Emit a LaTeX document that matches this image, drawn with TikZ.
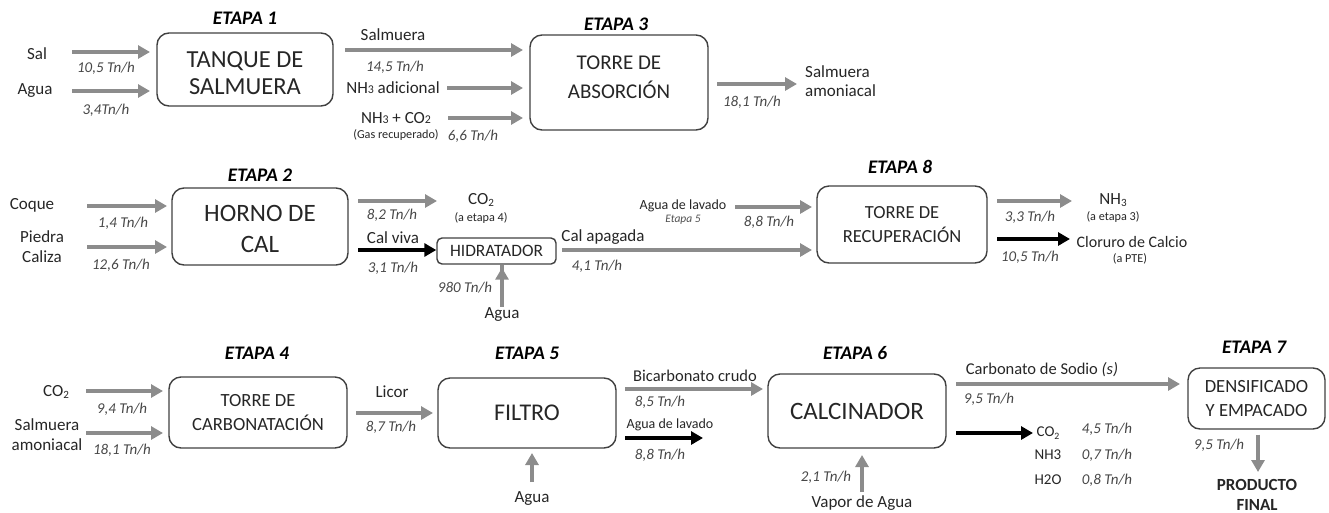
\documentclass[tikz,border=0pt]{standalone}
\usepackage{fontspec}
\usepackage{graphicx}
\setmainfont{Carlito}
\usetikzlibrary{arrows.meta}
\definecolor{ag}{HTML}{8C8C8C}
\definecolor{bx}{HTML}{404040}
\definecolor{tx}{HTML}{262626}
\newcommand\lowsub[1]{\raisebox{-0.35ex}{\scalebox{0.65}{#1}}}
\newcommand\smnum[1]{\scalebox{0.7}{#1}}
\begin{document}
\begin{tikzpicture}[x=1pt,y=-1pt,
  box/.style={draw=bx, line width=1.4pt, rounded corners=12pt, align=center, inner sep=0pt, text=tx, font=\fontsize{24.5}{28}\selectfont},
  boxtext/.style={align=center, inner sep=0pt, text=tx},
  ga/.style={color=ag, line width=4pt, -{Triangle[length=12pt,width=13pt]}},
  ka/.style={color=black, line width=4pt, -{Triangle[length=12pt,width=13pt]}},
  lab/.style={text=tx, font=\fontsize{17}{19}\selectfont, align=center, inner sep=0pt},
  rate/.style={text=tx!85, font=\fontsize{15}{17}\selectfont\itshape, inner sep=0pt},
  sml/.style={text=tx, font=\fontsize{12.2}{14}\selectfont, align=center, inner sep=0pt},
  etapa/.style={font=\fontsize{19.2}{21}\selectfont\bfseries\itshape, inner sep=0pt}
]
\useasboundingbox (0,0) rectangle (1329,512);

% ---------- boxes ----------
\node[box, minimum width=176pt, minimum height=73pt] (tanque) at (245,69.5) {};
\node[boxtext, font=\fontsize{24.5}{27.5}\selectfont] (tanquet) at (245,73) {TANQUE DE\\SALMUERA};
\node[box, minimum width=178pt, minimum height=95pt] (absor) at (619,82.5) {};
\node[boxtext, font=\fontsize{21}{29}\selectfont] (absort) at (619,77) {TORRE DE\\ABSORCIÓN};
\node[box, minimum width=176pt, minimum height=77pt] (horno) at (260,226.5) {};
\node[boxtext, font=\fontsize{25}{31.5}\selectfont] (hornot) at (260,229) {HORNO DE\\CAL};
\node[box, minimum width=119pt, minimum height=26pt, rounded corners=5pt, font=\fontsize{17.4}{19}\selectfont] (hidrat) at (496.5,251) {HIDRATADOR};
\node[box, minimum width=170pt, minimum height=77pt, font=\fontsize{18.5}{24.5}\selectfont] (recup) at (902,224.5) {TORRE DE\\RECUPERACIÓN};
\node[box, minimum width=178pt, minimum height=71pt, font=\fontsize{18.6}{24}\selectfont] (carbon) at (258,412.5) {TORRE DE\\CARBONATACIÓN};
\node[box, minimum width=178pt, minimum height=70pt, font=\fontsize{24}{28}\selectfont] (filtro) at (527,413) {FILTRO};
\node[box, minimum width=178pt, minimum height=74pt, font=\fontsize{25}{28}\selectfont] (calcin) at (857,411) {CALCINADOR};
\node[box, minimum width=137pt, minimum height=61pt, font=\fontsize{18.6}{24}\selectfont] (densif) at (1256.5,398.5) {DENSIFICADO\\Y EMPACADO};

% ---------- etapas ----------
\node[etapa] (e1) at (245,18) {ETAPA 1};
\node[etapa] (e3) at (616,24) {ETAPA 3};
\node[etapa] (e2) at (260,175) {ETAPA 2};
\node[etapa] (e8) at (900,167) {ETAPA 8};
\node[etapa] (e4) at (257,353) {ETAPA 4};
\node[etapa] (e5) at (527,353) {ETAPA 5};
\node[etapa] (e6) at (855,353) {ETAPA 6};
\node[etapa] (e7) at (1254,347) {ETAPA 7};

% ---------- row 1 ----------
\node[lab] (sal) at (37,54) {Sal};
\node[lab] (agua1) at (35,91) {Agua};
\coordinate (sal0) at (72,52);
\coordinate (agua0) at (72,91);
\draw[ga] (sal0) -- (sal0 -| 150,0);
\draw[ga] (agua0) -- (agua0 -| 150,0);
\node[rate] at (106,68) {10,5 Tn/h};
\node[rate] at (106,110) {3,4Tn/h};

\node[lab] (salm) at (393,35) {Salmuera};
\coordinate (salm0) at (345,50);
\draw[ga] (salm0) -- (salm0 -| 523,0);
\node[rate] at (395,67) {14,5 Tn/h};

\node[lab] (nh3a) at (393,88) {NH\smnum{3} adicional};
\coordinate (nh3a0) at (447,88);
\draw[ga] (nh3a0) -- (nh3a0 -| 523,0);

\node[lab] (nhco) at (396,118) {NH\smnum{3} + CO\smnum{2}};
\node[sml] (gasrec) at (396,135) {(Gas recuperado)};
\coordinate (nhco0) at (448,118);
\draw[ga] (nhco0) -- (nhco0 -| 523,0);
\node[rate] at (473,136) {6,6 Tn/h};

\coordinate (abs0) at (717,84);
\draw[ga] (abs0) -- (abs0 -| 797,0);
\node[rate] at (752,102) {18,1 Tn/h};
\node[lab, align=left, anchor=west, font=\fontsize{17}{19}\selectfont] (salam) at (805,81) {Salmuera\\amoniacal};

% ---------- row 2 ----------
\node[lab] (coque) at (32,205) {Coque};
\node[lab, font=\fontsize{17}{20}\selectfont] (piedra) at (42,247) {Piedra\\Caliza};
\coordinate (coq0) at (87,206);
\coordinate (pie0) at (87,247);
\draw[ga] (coq0) -- (coq0 -| 167,0);
\draw[ga] (pie0) -- (pie0 -| 167,0);
\node[rate] at (123,223) {1,4 Tn/h};
\node[rate] at (121,265) {12,6 Tn/h};

\coordinate (co2h0) at (358,201);
\draw[ga] (co2h0) -- (co2h0 -| 437,0);
\node[rate] at (392,215) {8,2 Tn/h};
\node[lab] (co2h) at (481,200) {CO\lowsub{2}};
\node[sml] at (481,218) {(a etapa 4)};

\coordinate (cv0) at (358,250);
\draw[ka] (cv0) -- (hidrat.west |- cv0);
\node[lab] at (393,238) {Cal viva};
\node[rate] at (393,268) {3,1 Tn/h};

\coordinate (ca0) at (562,250);
\draw[ga] (ca0) -- (812,250);
\node[lab] at (603,237) {Cal apagada};
\node[rate] at (597,266) {4,1 Tn/h};

\node[lab] (aguah) at (502,314) {Agua};
\draw[ga] (aguah.north) -- (hidrat.south -| aguah.north) ++(0,3);
\node[rate] at (465,288) {980 Tn/h};

\node[lab, font=\fontsize{14}{16}\selectfont] (agl) at (683,206) {Agua de lavado};
\node[sml, font=\fontsize{11.5}{12}\selectfont\itshape, text=tx!80] at (683,220) {Etapa 5};
\coordinate (agl0) at (735,207);
\draw[ga] (agl0) -- (agl0 -| 812,0);
\node[rate] at (769,222) {8,8 Tn/h};

\coordinate (nh0) at (997,201);
\draw[ga] (nh0) -- (nh0 -| 1072,0);
\node[rate] at (1030,217) {3,3 Tn/h};
\node[lab] (nh3r) at (1113,200) {NH\lowsub{3}};
\node[sml] at (1113,217) {(a etapa 3)};

\coordinate (cc0) at (997,239);
\draw[ka] (cc0) -- (cc0 -| 1070,0);
\node[lab, font=\fontsize{16}{18}\selectfont] (cloruro) at (1132,242) {Cloruro de Calcio};
\node[rate] at (1030,257) {10,5 Tn/h};
\node[sml] at (1130,259) {(a PTE)};

% ---------- row 3 ----------
\node[lab] (co2c) at (56,392) {CO\lowsub{2}};
\node[lab, font=\fontsize{17}{20}\selectfont] (salam2) at (47,435) {Salmuera\\amoniacal};
\coordinate (co2c0) at (86,391);
\coordinate (sa0) at (86,433);
\draw[ga] (co2c0) -- (co2c0 -| 163,0);
\draw[ga] (sa0) -- (sa0 -| 163,0);
\node[rate] at (122,409) {9,4 Tn/h};
\node[rate] at (122,450) {18,1 Tn/h};

\coordinate (lic0) at (356,413);
\draw[ga] (lic0) -- (lic0 -| 433,0);
\node[lab] at (392,392) {Licor};
\node[rate] at (391,427) {8,7 Tn/h};

\node[lab] (aguaf) at (532,498) {Agua};
\draw[ga] (532,482) -- (532,453);

\coordinate (bic0) at (625,389);
\draw[ga] (bic0) -- (bic0 -| 763,0);
\node[lab, font=\fontsize{16.5}{18}\selectfont] at (695,376) {Bicarbonato crudo};
\node[rate] at (660,402) {8,5 Tn/h};

\coordinate (agl20) at (625,438);
\draw[ka] (agl20) -- (agl20 -| 703,0);
\node[lab, font=\fontsize{14}{16}\selectfont] at (670,425) {Agua de lavado};
\node[rate] at (660,455) {8,8 Tn/h};

\node[lab] (vapor) at (862,503) {Vapor de Agua};
\draw[ga] (862,492) -- (862,455);
\node[rate] at (826,477) {2,1 Tn/h};

\coordinate (carb0) at (956,384);
\draw[ga] (carb0) -- (carb0 -| 1180,0);
\node[lab, font=\fontsize{16.5}{18}\selectfont] at (1042,370) {Carbonato de Sodio \textit{(s)}};
\node[rate] at (989,399) {9,5 Tn/h};

\coordinate (gas0) at (956,433);
\draw[ka] (gas0) -- (gas0 -| 1033,0);
\node[lab, font=\fontsize{15}{17}\selectfont] at (1048,433) {CO\lowsub{2}};
\node[lab, font=\fontsize{15}{17}\selectfont] at (1048,455) {NH3};
\node[lab, font=\fontsize{15}{17}\selectfont] at (1048,480) {H2O};
\node[rate] at (1107,429) {4,5 Tn/h};
\node[rate] at (1107,455) {0,7 Tn/h};
\node[rate] at (1107,480) {0,8 Tn/h};

\node[lab, font=\fontsize{17}{19.5}\selectfont\bfseries] (prod) at (1257,495) {PRODUCTO\\FINAL};
\draw[ga] (densif.south -| 1258,0) ++(0,5) -- (1258,472);
\node[rate] at (1219,445) {9,5 Tn/h};
\end{tikzpicture}
\end{document}
